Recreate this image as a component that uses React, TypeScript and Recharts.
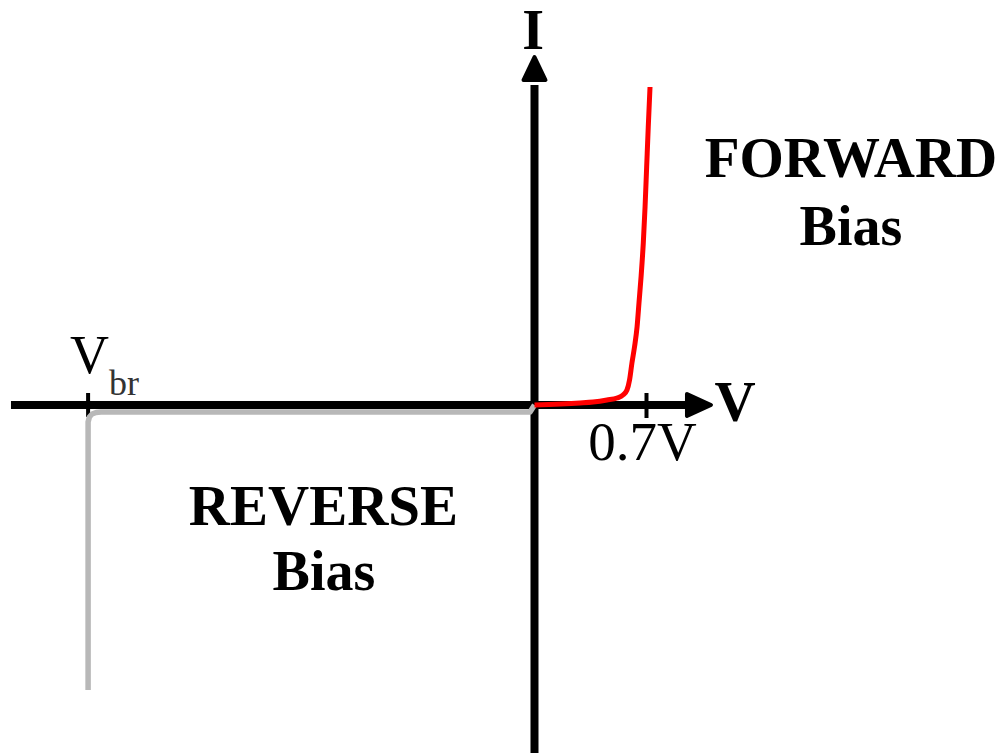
import React from 'react';
import { ComposedChart, Line, XAxis, YAxis, ReferenceLine, ReferenceDot } from 'recharts';

// forward branch (volts, arbitrary current units)
const forwardV = [0, 0.284, 0.366, 0.453, 0.516, 0.553, 0.578, 0.594, 0.609, 0.625, 0.641, 0.653, 0.666, 0.68, 0.691, 0.701, 0.711, 0.722];
const forwardI = [0, 0.2, 0.3, 0.5, 0.7, 1.0, 1.5, 2.5, 4.2, 5.8, 7.8, 10.2, 12.8, 16.2, 19.8, 23.8, 27.8, 31.8];

// reverse branch, leakage then breakdown
const reverseV = [0, -0.028, -2.71, -2.74, -2.765, -2.782, -2.79, -2.79];
const reverseI = [0, -0.7, -0.7, -0.75, -0.9, -1.2, -1.7, -28.5];

const vKnee = 0.7;
const vBreakdown = -2.79;
const xDomain = [-3.3406, 2.9344];
const yDomain = [-34.8, 40.5];

const forwardData = forwardV.map((v, k) => ({ v, i: forwardI[k] }));
const reverseData = reverseV.map((v, k) => ({ v, i: reverseI[k] }));

const serif = '"Liberation Serif", "Times New Roman", serif';

const textAt = (label: string, size: number, bold: boolean, anchor: 'start' | 'middle' | 'end' = 'middle') =>
  (p: any) => (
    <text x={p.cx} y={p.cy} textAnchor={anchor} fontSize={size} fontWeight={bold ? 700 : 400} fontFamily={serif} fill="#000">
      {label}
    </text>
  );

const upArrow = (p: any) => (
  <polygon
    points={`${p.cx - 11},${p.cy} ${p.cx},${p.cy - 23} ${p.cx + 11},${p.cy}`}
    fill="#000" stroke="#000" strokeWidth={4} strokeLinejoin="round"
  />
);

const rightArrow = (p: any) => (
  <polygon
    points={`${p.cx},${p.cy - 11} ${p.cx + 24},${p.cy} ${p.cx},${p.cy + 11}`}
    fill="#000" stroke="#000" strokeWidth={4} strokeLinejoin="round"
  />
);

const vbrLabel = (p: any) => (
  <text x={p.cx} y={p.cy} fontFamily={serif} fill="#000">
    <tspan fontSize={54}>V</tspan>
    <tspan fontSize={36} dy={22} fill="#333">br</tspan>
  </text>
);

export default function App() {
  return (
    <div style={{ position: 'absolute', left: 0, top: 0, background: '#fff' }}>
      <ComposedChart width={1004} height={753} margin={{ top: 0, right: 0, bottom: 0, left: 0 }}>
        <XAxis type="number" dataKey="v" domain={xDomain} hide allowDataOverflow />
        <YAxis type="number" dataKey="i" domain={yDomain} hide allowDataOverflow />

        {/* axes */}
        <ReferenceLine segment={[{ x: -3.272, y: 0 }, { x: 0.96, y: 0 }]} stroke="#000" strokeWidth={8} ifOverflow="visible" />
        <ReferenceLine segment={[{ x: 0, y: -34.8 }, { x: 0, y: 32 }]} stroke="#000" strokeWidth={8} ifOverflow="visible" />
        <ReferenceLine segment={[{ x: vKnee, y: 1.2 }, { x: vKnee, y: -1.3 }]} stroke="#000" strokeWidth={4} ifOverflow="visible" />
        <ReferenceLine segment={[{ x: vBreakdown, y: 1.2 }, { x: vBreakdown, y: -1.2 }]} stroke="#000" strokeWidth={4} ifOverflow="visible" />
        <ReferenceDot x={0} y={32.5} shape={upArrow} ifOverflow="visible" />
        <ReferenceDot x={0.953} y={0} shape={rightArrow} ifOverflow="visible" />

        <Line data={reverseData} dataKey="i" type="linear" stroke="#b8b8b8" strokeWidth={5.5} dot={false}
          activeDot={false} strokeLinejoin="round" isAnimationActive={false} />
        <Line data={forwardData} dataKey="i" type="monotone" stroke="#ff0000" strokeWidth={5} dot={false}
          activeDot={false} strokeLinejoin="round" isAnimationActive={false} />

        {/* labels */}
        <ReferenceDot x={-0.009} y={35.6} shape={textAt('I', 56, true)} ifOverflow="visible" />
        <ReferenceDot x={1.253} y={-1.6} shape={textAt('V', 57, true)} ifOverflow="visible" />
        <ReferenceDot x={0.675} y={-5.5} shape={textAt('0.7V', 55, false)} ifOverflow="visible" />
        <ReferenceDot x={-2.903} y={3.2} shape={vbrLabel} ifOverflow="visible" />
        <ReferenceDot x={1.978} y={22.8} shape={textAt('FORWARD', 57, true)} ifOverflow="visible" />
        <ReferenceDot x={1.978} y={16.0} shape={textAt('Bias', 56, true)} ifOverflow="visible" />
        <ReferenceDot x={-1.319} y={-12.0} shape={textAt('REVERSE', 57, true)} ifOverflow="visible" />
        <ReferenceDot x={-1.316} y={-18.5} shape={textAt('Bias', 56, true)} ifOverflow="visible" />
      </ComposedChart>
    </div>
  );
}
